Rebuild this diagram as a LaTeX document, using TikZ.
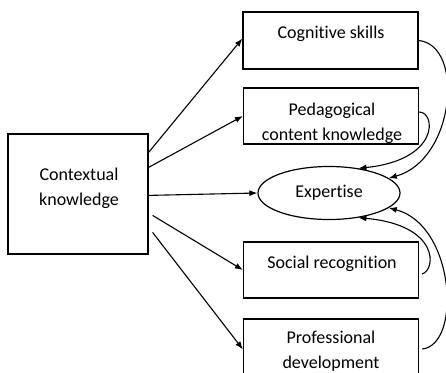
\documentclass[tikz,border=0pt]{standalone}
\usepackage{fontspec}
\setmainfont[Ligatures=NoCommon]{Carlito}
\usetikzlibrary{shapes.geometric,arrows.meta,calc}
\begin{document}
\begin{tikzpicture}[x=1pt,y=-1pt,
  box/.style={draw,line width=1.2pt,rectangle,inner sep=0pt,minimum width=175pt},
  txt/.style={font=\fontsize{18}{25}\selectfont,align=center,inner sep=0pt},
  arr/.style={line width=1.1pt,-{Latex[length=8pt,width=6pt]}}]
\useasboundingbox (0,0) rectangle (446,372);
\fill[white] (0,0) rectangle (446,372);
% boxes
\node[box,minimum width=140pt,minimum height=120pt] (ctx) at (78,194) {};
\node[box,minimum height=57pt] (cog) at (330.5,40.5) {};
\node[box,minimum height=56pt] (ped) at (331,116) {};
\node[box,minimum height=56pt] (soc) at (331,270) {};
\node[box,minimum height=70pt] (prof) at (331,354) {};
\node[draw,line width=1.2pt,ellipse,inner sep=0pt,minimum width=142pt,minimum height=53pt] (exp) at (329,193) {};
% texts
\node[txt] (ctxt) at (79,188) {Contextual\\knowledge};
\node[txt] (cogt) at (331,34) {Cognitive skills};
\begin{scope}
\clip (ped.north west) rectangle (ped.south east);
\node[txt] (pedt) at (332,123) {Pedagogical\\content knowledge};
\end{scope}
\node[box,minimum height=56pt] at (331,116) {};
\node[txt] (soct) at (332,264) {Social recognition};
\node[txt] (proft) at (331,351) {Professional\\development};
\node[txt] (expt) at (329,193) {Expertise};
% straight arrows
\draw[arr] ($(ctx.north east)+(0,19)$) -- ($(cog.west)+(0,-2)$);
\draw[arr] ($(ctx.north east)+(0,34)$) -- (ped.west);
\draw[arr] ($(ctx.north east)+(0,62)$) -- (exp.west);
\draw[arr] ($(ctx.north east)+(4,82)$) -- (soc.west);
\draw[arr] ($(ctx.north east)+(4,99)$) -- ($(prof.north west)+(0,31)$);
% curved arrows
\draw[arr] (cog.east) .. controls (465,45) and (455,160) .. (exp.14);
\draw[arr] ($(ped.east)+(0,-4)$) .. controls (436,112) and (440,160) .. (exp.40);
\draw[arr] ($(soc.east)+(3,4)$) .. controls (436,270) and (440,225) .. (exp.-40);
\draw[arr] ($(prof.east)+(3,-5)$) .. controls (462,345) and (455,225) .. (exp.-14);
\end{tikzpicture}
\end{document}
